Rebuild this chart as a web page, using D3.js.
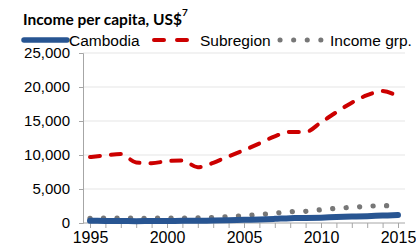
<!doctype html>
<html lang="en">
<head>
<meta charset="utf-8" />
<title>Income per capita</title>
<script src="https://cdn.jsdelivr.net/npm/d3@7"></script>
<style>
  body { margin: 0; background: #fff; }
  text { font-family: "Liberation Sans", Arial, sans-serif; fill: #000; }
</style>
</head>
<body>
<script>
// data
var years = d3.range(1995, 2016);
var cambodia = [320, 310, 305, 270, 285, 300, 315, 335, 355, 395, 470, 530, 610, 710, 730, 785, 880, 950, 1010, 1090, 1160];
var subregion = [9700, 9950, 10150, 8900, 8800, 9100, 9200, 8200, 8850, 9800, 10700, 11700, 12750, 13400, 13400, 14800, 16300, 17700, 18800, 19400, 18600];
var incomeGrp = [700, 720, 730, 700, 700, 720, 720, 740, 820, 950, 1080, 1230, 1450, 1650, 1720, 1950, 2150, 2300, 2450, 2550, 2550];
var yTicks = [0, 5000, 10000, 15000, 20000, 25000];
var xLabels = [1995, 2000, 2005, 2010, 2015];

var w = 416, h = 251;
var blue = "#285592", red = "#cc0000", gray = "#777777";

var svg = d3.select("body").append("svg").attr("width", w).attr("height", h);

var x = d3.scaleLinear().domain([1995, 2015]).range([90, 398]);
var y = d3.scaleLinear().domain([0, 25000]).range([223, 53]);

// title
var title = svg.append("text").attr("x", 23).attr("y", 25)
  .attr("font-size", "15.5px").attr("font-weight", "bold")
  .style("font-family", "Lato, 'Liberation Sans', sans-serif");
title.append("tspan").text("Income per capita, US$");
title.append("tspan").attr("dy", -9).attr("font-size", "10px").text("7");

// gridlines
svg.append("g").selectAll("line").data(yTicks.slice(1)).enter().append("line")
  .attr("x1", 83).attr("x2", 405)
  .attr("y1", function(d) { return y(d); }).attr("y2", function(d) { return y(d); })
  .attr("stroke", "#e6e6e6").attr("stroke-width", 1.2);

// y axis
var yAxis = svg.append("g").attr("transform", "translate(83,0)")
  .call(d3.axisLeft(y).tickValues(yTicks).tickSize(4).tickPadding(9).tickFormat(d3.format(",")));
yAxis.select(".domain").attr("stroke", "#a6a6a6");
yAxis.selectAll(".tick line").attr("stroke", "#a6a6a6");
yAxis.selectAll("text").attr("font-size", "15px").style("font-family", "'Liberation Sans', Arial, sans-serif");

// x axis
var xAxis = svg.append("g").attr("transform", "translate(0,223)")
  .call(d3.axisBottom(x).tickValues(years).tickSize(5).tickSizeOuter(0).tickPadding(4)
    .tickFormat(function(d) { return xLabels.indexOf(d) >= 0 ? d : ""; }));
xAxis.select(".domain").attr("d", "M83,0H405").attr("stroke", "#a6a6a6");
xAxis.selectAll(".tick line").attr("stroke", "#a6a6a6");
xAxis.selectAll("text").attr("font-size", "16px").style("font-family", "'Liberation Sans', Arial, sans-serif");

var line = d3.line()
  .x(function(d, i) { return x(years[i]); })
  .y(function(d) { return y(d); })
  .curve(d3.curveMonotoneX);

svg.append("path").datum(incomeGrp).attr("d", line)
  .attr("fill", "none").attr("stroke", gray).attr("stroke-width", 5.2)
  .attr("stroke-linecap", "round").attr("stroke-dasharray", "0.1 13.4");

svg.append("path").datum(cambodia).attr("d", line)
  .attr("fill", "none").attr("stroke", blue).attr("stroke-width", 6)
  .attr("stroke-linecap", "round");

svg.append("path").datum(subregion).attr("d", line)
  .attr("fill", "none").attr("stroke", red).attr("stroke-width", 4)
  .attr("stroke-linecap", "round").attr("stroke-dasharray", "10 11");

// legend
var lg = svg.append("g");
lg.append("line").attr("x1", 24).attr("x2", 67).attr("y1", 40).attr("y2", 40)
  .attr("stroke", blue).attr("stroke-width", 5.5).attr("stroke-linecap", "round");
lg.append("text").attr("x", 69).attr("y", 45.5).attr("font-size", "15.5px").text("Cambodia");
lg.append("line").attr("x1", 154).attr("x2", 192).attr("y1", 40).attr("y2", 40)
  .attr("stroke", red).attr("stroke-width", 4).attr("stroke-linecap", "round")
  .attr("stroke-dasharray", "10 13");
lg.append("text").attr("x", 200).attr("y", 45.5).attr("font-size", "15.5px").text("Subregion");
lg.append("line").attr("x1", 280).attr("x2", 321).attr("y1", 40).attr("y2", 40)
  .attr("stroke", gray).attr("stroke-width", 5).attr("stroke-linecap", "round")
  .attr("stroke-dasharray", "0.1 13.5");
lg.append("text").attr("x", 330).attr("y", 45.5).attr("font-size", "15.5px").text("Income grp.");
</script>
</body>
</html>
